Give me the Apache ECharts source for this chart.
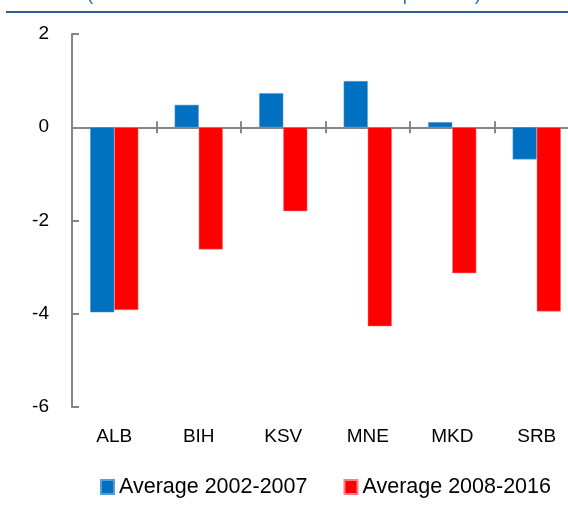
<!DOCTYPE html>
<html>
<head>
<meta charset="utf-8">
<script src="https://cdn.jsdelivr.net/npm/echarts@6/dist/echarts.min.js"></script>
<style>
  html, body { margin: 0; padding: 0; background: #fff; }
  #chart { width: 568px; height: 514px; }
</style>
</head>
<body>
<div id="chart"></div>
<script>
// data
var countries = ['ALB', 'BIH', 'KSV', 'MNE', 'MKD', 'SRB'];
var avg0207 = [-3.97, 0.48, 0.73, 0.99, 0.11, -0.69];
var avg0816 = [-3.92, -2.62, -1.80, -4.27, -3.13, -3.95];
var seriesNames = ['Average 2002-2007', 'Average 2008-2016'];
var yTicks = { min: -6, max: 2, step: 2 };

var chart = echarts.init(document.getElementById('chart'));
var axisGray = '#868686';
var font = '"Liberation Sans", Arial, sans-serif';

// category axis only used to draw the zero line with ticks
function zeroAxis(pos, yIdx) {
    return {
        type: 'category',
        data: countries,
        position: pos,
        axisLine: { show: true, onZero: true, onZeroAxisIndex: yIdx, lineStyle: { color: axisGray, width: 2 } },
        axisTick: { show: true, interval: 0, length: 6, lineStyle: { color: axisGray, width: 2 } },
        axisLabel: { show: false }
    };
}

var option = {
    animation: false,
    graphic: [
        {
            type: 'text',
            left: 'center',
            top: -15,
            style: {
                text: '(Percent and absolute deviation from potential)',
                fill: '#2e75b6',
                font: '19px ' + font
            }
        },
        {
            type: 'rect',
            shape: { x: 6, y: 11, width: 562, height: 2 },
            style: { fill: '#2f5f98' }
        }
    ],
    legend: {
        left: 95,
        top: 471,
        itemWidth: 13,
        itemHeight: 14,
        itemGap: 36,
        icon: 'rect',
        textStyle: { fontFamily: font, fontSize: 21.5, color: '#000', padding: [0, 0, 0, 0] },
        data: seriesNames
    },
    grid: {
        left: 72,
        top: 34,
        bottom: 107,
        right: -11,
        containLabel: false,
        outerBoundsMode: 'none'
    },
    xAxis: [
        {
            type: 'category',
            data: countries,
            position: 'bottom',
            axisLine: { show: false, onZero: false },
            axisTick: { show: false },
            axisLabel: { margin: 20, fontFamily: font, fontSize: 19, color: '#000' }
        },
        zeroAxis('bottom', 0),
        zeroAxis('top', 1)
    ],
    yAxis: [
        {
            type: 'value',
            min: yTicks.min,
            max: yTicks.max,
            interval: yTicks.step,
            axisLine: { show: true, lineStyle: { color: axisGray, width: 2 } },
            axisTick: { show: true, inside: true, length: 7, lineStyle: { color: axisGray, width: 2 } },
            splitLine: { show: false },
            axisLabel: { margin: 23, fontFamily: font, fontSize: 19, color: '#000' }
        },
        {
            type: 'value',
            min: yTicks.min,
            max: yTicks.max,
            interval: yTicks.step,
            position: 'left',
            show: false
        }
    ],
    series: [
        {
            name: seriesNames[0],
            type: 'bar',
            xAxisIndex: 0,
            data: avg0207,
            barGap: '0%',
            barCategoryGap: '43%',
            itemStyle: { color: '#0070c0', borderColor: '#5b9bd5', borderWidth: 0.5 }
        },
        {
            name: seriesNames[1],
            type: 'bar',
            xAxisIndex: 0,
            data: avg0816,
            barGap: '0%',
            barCategoryGap: '43%',
            itemStyle: { color: '#ff0000', borderColor: '#ff7c80', borderWidth: 0.5 }
        }
    ]
};
chart.setOption(option);
</script>
</body>
</html>
